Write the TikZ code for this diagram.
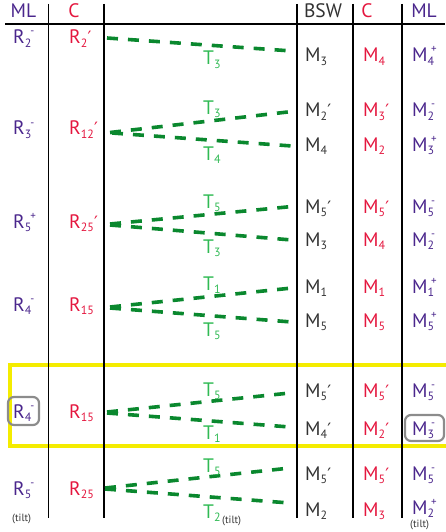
\documentclass[tikz,border=0pt]{standalone}
\usepackage{fontspec}
\setmainfont{PT Sans}
\newfontfamily\dvfont{DejaVu Sans}
\definecolor{mlpur}{RGB}{74,38,140}
\definecolor{cred}{RGB}{228,22,62}
\definecolor{bswg}{RGB}{50,50,50}
\definecolor{tgreen}{RGB}{48,186,84}
\definecolor{lgreen}{RGB}{10,136,46}
\definecolor{ylw}{RGB}{244,236,0}
\definecolor{gbx}{RGB}{140,140,140}
\newcommand\sbs[1]{\raisebox{-3.8pt}{\fontsize{12}{12}\selectfont #1}}
\newcommand\sps[1]{\raisebox{9pt}{\fontsize{11}{11}\selectfont #1}}
\newcommand\sbsp[2]{\sbs{#1}\kern-3pt\sps{#2}}
\newcommand\prm{{\dvfont\fontsize{17}{17}\selectfont\kern0.3pt ′}}
\tikzset{
  tx/.style={inner sep=0pt, anchor=base west, font=\fontsize{19.5}{19.5}\selectfont},
  hd/.style={inner sep=0pt, anchor=base, font=\fontsize{19.5}{19.5}\selectfont},
  pur/.style={text=mlpur},
  red/.style={text=cred},
  bsw/.style={text=bswg},
  tl/.style={inner sep=0pt, anchor=base west, text=tgreen, font=\fontsize{19.5}{19.5}\selectfont},
  tiltlab/.style={inner sep=0pt, anchor=base west, text=bswg, font=\fontsize{10.5}{10.5}\selectfont},
  rule/.style={draw=black, line width=1.8pt},
  dl/.style={draw=lgreen, line width=3.6pt, dash pattern=on 11pt off 10pt},
  ybox/.style={draw=ylw, line width=4.2pt},
  gbox/.style={draw=gbx, line width=2.2pt, rounded corners=6pt}
}
\begin{document}
\begin{tikzpicture}[x=1pt,y=-1pt]
\useasboundingbox (0,0) rectangle (445,532);
% highlight box
\draw[ybox] (10,365) rectangle (455,446);
% rules
\draw[rule] (5,24) -- (445,24);
\foreach \x in {48.5,104,297,353,402} \draw[rule] (\x,4) -- (\x,518);
% header
\node[hd,pur] (h1) at (23.5,18) {ML};
\node[hd,red] (h2) at (74,18) {C};
\node[hd,bsw] (h3) at (323,18) {BSW};
\node[hd,red] (h4) at (367,18) {C};
\node[hd,pur] (h5) at (424,18) {ML};
% ---------------- row 1
\node[tx,pur] (r1a) at (13,44) {R\sbs{2}\kern-1pt\sps{-}};
\node[tx,red] (r1b) at (69,44) {R\sbs{2}\prm};
\node[tx,bsw] (m1a) at (305,62) {M\sbs{3}};
\node[tx,red] (m1b) at (363,62) {M\sbs{4}};
\node[tx,pur] (m1c) at (412,62) {M\sbsp{4}{+}};
\coordinate (l1s) at (107,38); \coordinate (l1e) at (292,51);
\draw[dl] (l1s) -- (l1e);
\node[tl] (t1) at (203,65) {T\sbs{3}};
% ---------------- row 2
\node[tx,pur] (r2a) at (13,135) {R\sbs{3}\kern-1pt\sps{-}};
\node[tx,red] (r2b) at (69,135) {R\sbs{12}\prm};
\node[tx,bsw] (m2a) at (305,117) {M\sbs{2}\prm};
\node[tx,red] (m2b) at (363,117) {M\sbs{3}\prm};
\node[tx,pur] (m2c) at (412,117) {M\sbsp{2}{-}};
\node[tx,bsw] (m2d) at (305,151) {M\sbs{4}};
\node[tx,red] (m2e) at (363,151) {M\sbs{2}};
\node[tx,pur] (m2f) at (412,151) {M\sbsp{3}{+}};
\coordinate (l2s) at (110,132.5); \coordinate (l2e) at (292,111.5);
\coordinate (l2t) at (112,133); \coordinate (l2f) at (292,146);
\draw[dl] (l2s) -- (l2e);
\draw[dl] (l2t) -- (l2f);
\node[tl] (t2a) at (203,114) {T\sbs{3}};
\node[tl] (t2b) at (203,160) {T\sbs{4}};
% ---------------- row 3
\node[tx,pur] (r3a) at (13,228) {R\sbs{5}\kern-1pt\sps{+}};
\node[tx,red] (r3b) at (69,228) {R\sbs{25}\prm};
\node[tx,bsw] (m3a) at (305,213) {M\sbs{5}\prm};
\node[tx,red] (m3b) at (363,213) {M\sbs{5}\prm};
\node[tx,pur] (m3c) at (412,213) {M\sbsp{5}{-}};
\node[tx,bsw] (m3d) at (305,246) {M\sbs{3}};
\node[tx,red] (m3e) at (363,246) {M\sbs{4}};
\node[tx,pur] (m3f) at (412,246) {M\sbsp{2}{-}};
\coordinate (l3s) at (110,224); \coordinate (l3e) at (292,206.5);
\coordinate (l3t) at (110,225); \coordinate (l3f) at (292,240);
\draw[dl] (l3s) -- (l3e);
\draw[dl] (l3t) -- (l3f);
\node[tl] (t3a) at (203,208) {T\sbs{5}};
\node[tl] (t3b) at (203,253) {T\sbs{3}};
% ---------------- row 4
\node[tx,pur] (r4a) at (13,311) {R\sbs{4}\kern-1pt\sps{-}};
\node[tx,red] (r4b) at (69,311) {R\sbs{15}};
\node[tx,bsw] (m4a) at (305,293) {M\sbs{1}};
\node[tx,red] (m4b) at (363,293) {M\sbs{1}};
\node[tx,pur] (m4c) at (412,293) {M\sbsp{1}{+}};
\node[tx,bsw] (m4d) at (305,327) {M\sbs{5}};
\node[tx,red] (m4e) at (363,327) {M\sbs{5}};
\node[tx,pur] (m4f) at (412,327) {M\sbsp{5}{+}};
\coordinate (l4s) at (110,307); \coordinate (l4e) at (292,288);
\coordinate (l4t) at (110,308); \coordinate (l4f) at (292,322);
\draw[dl] (l4s) -- (l4e);
\draw[dl] (l4t) -- (l4f);
\node[tl] (t4a) at (203,290) {T\sbs{1}};
\node[tl] (t4b) at (203,336) {T\sbs{5}};
% ---------------- row 5
\node[tx,pur] (r5a) at (13,418) {R\sbs{4}\kern-1pt\sps{-}};
\node[tx,red] (r5b) at (69,418) {R\sbs{15}};
\node[tx,bsw] (m5a) at (305,397) {M\sbs{5}\prm};
\node[tx,red] (m5b) at (363,397) {M\sbs{5}\prm};
\node[tx,pur] (m5c) at (412,397) {M\sbsp{5}{-}};
\node[tx,bsw] (m5d) at (305,435) {M\sbs{4}\prm};
\node[tx,red] (m5e) at (363,435) {M\sbs{2}\prm};
\node[tx,pur] (m5f) at (412,435) {M\sbsp{3}{-}};
\coordinate (l5s) at (107,412); \coordinate (l5e) at (290,393);
\coordinate (l5t) at (107,413); \coordinate (l5f) at (290,427);
\draw[dl] (l5s) -- (l5e);
\draw[dl] (l5t) -- (l5f);
\node[tl] (t5a) at (203,396) {T\sbs{5}};
\node[tl] (t5b) at (203,439) {T\sbs{1}};
\draw[gbox] (8,397) rectangle (39,425);
\draw[gbox] (405,415) rectangle (444,441);
% ---------------- row 6
\node[tx,pur] (r6a) at (13,495) {R\sbs{5}\kern-1pt\sps{-}};
\node[tx,red] (r6b) at (69,495) {R\sbs{25}};
\node[tx,bsw] (m6a) at (305,480) {M\sbs{5}\prm};
\node[tx,red] (m6b) at (363,480) {M\sbs{5}\prm};
\node[tx,pur] (m6c) at (412,480) {M\sbsp{5}{-}};
\node[tx,bsw] (m6d) at (305,516) {M\sbs{2}};
\node[tx,red] (m6e) at (363,516) {M\sbs{3}};
\node[tx,pur] (m6f) at (412,514) {M\sbsp{2}{+}};
\coordinate (l6s) at (105,488); \coordinate (l6e) at (290,468);
\coordinate (l6t) at (105,489); \coordinate (l6f) at (290,503);
\draw[dl] (l6s) -- (l6e);
\draw[dl] (l6t) -- (l6f);
\node[tl] (t6a) at (203,472) {T\sbs{5}};
\node[tl] (t6b) at (203,518) {T\sbs{2}};
\node[tiltlab] (tilt1) at (12,521) {(tilt)};
\node[tiltlab] (tilt2) at (222,523) {(tilt)};
\node[tiltlab] (tilt3) at (410,527.5) {(tilt)};
\end{tikzpicture}
\end{document}
